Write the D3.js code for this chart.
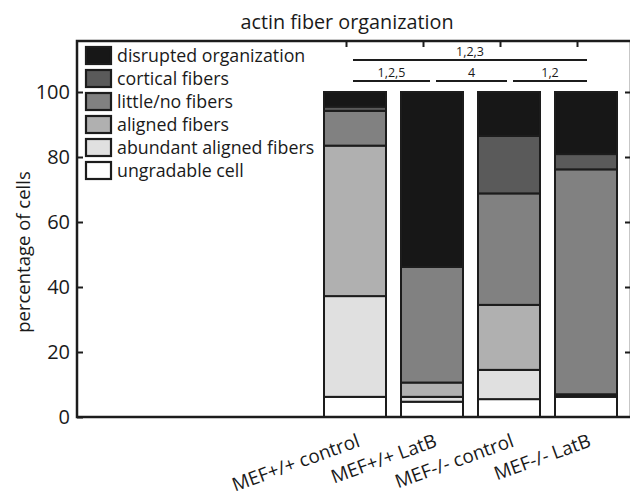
<!DOCTYPE html>
<html>
<head>
<meta charset="utf-8">
<script src="https://cdn.jsdelivr.net/npm/d3@7/dist/d3.min.js"></script>
<style>
  html, body { margin: 0; padding: 0; background: #fff; }
  svg { display: block; font-family: "Open Sans", "Noto Sans", sans-serif; }
</style>
</head>
<body>
<svg id="chart" width="630" height="500"></svg>
<script>
// ---- data ----
const categories = ["MEF+/+ control", "MEF+/+ LatB", "MEF-/- control", "MEF-/- LatB"];
const seriesNames = ["ungradable cell", "abundant aligned fibers", "aligned fibers", "little/no fibers", "cortical fibers", "disrupted organization"];
const ungradable = [6.2, 4.7, 5.5, 6.2];
const abundant   = [31.0, 1.5, 9.0, 0.4];
const aligned    = [46.3, 4.4, 20.0, 0.4];
const littleNo   = [10.7, 35.6, 34.3, 69.2];
const cortical   = [1.3, 0.0, 17.7, 4.7];
const disrupted  = [4.5, 53.8, 13.5, 19.1];
const yTicks = [0, 20, 40, 60, 80, 100];
const brackets = [
  { from: 0, to: 3, label: "1,2,3", level: 1 },
  { from: 0, to: 1, label: "1,2,5", level: 0 },
  { from: 1, to: 2, label: "4", level: 0 },
  { from: 2, to: 3, label: "1,2", level: 0 }
];
const title = "actin fiber organization";
const yLabel = "percentage of cells";

// ---- styling ----
const colors = ["#ffffff", "#e0e0e0", "#b0b0b0", "#818181", "#5a5a5a", "#171717"];
const ink = "#1c1c1c";

const seriesValues = [ungradable, abundant, aligned, littleNo, cortical, disrupted];
const table = categories.map((c, i) => {
  const row = { cat: c };
  seriesNames.forEach((s, j) => row[s] = seriesValues[j][i]);
  return row;
});
const stacked = d3.stack().keys(seriesNames)(table);

const svg = d3.select("#chart");
const frame = { left: 77, right: 631, top: 41, bottom: 417 };

const x = d3.scaleBand().domain(categories).range([316.5, 624.5])
  .paddingInner(0.169).paddingOuter(0.0845);
const y = d3.scaleLinear().domain([0, 100]).range([frame.bottom, 92]);

// bars
const g = svg.append("g");
stacked.forEach((layer, j) => {
  g.selectAll(null).data(layer.filter(d => d[1] - d[0] > 0)).join("rect")
    .attr("x", d => x(d.data.cat) + 1)
    .attr("width", x.bandwidth() - 2)
    .attr("y", d => y(d[1]))
    .attr("height", d => Math.max(0, y(d[0]) - y(d[1])))
    .attr("fill", colors[j])
    .attr("stroke", ink)
    .attr("stroke-width", 2);
});

// frame
svg.append("rect")
  .attr("x", frame.left).attr("y", frame.top)
  .attr("width", frame.right - frame.left).attr("height", frame.bottom - frame.top)
  .attr("fill", "none").attr("stroke", ink).attr("stroke-width", 2.5);

// left axis
const yAxis = svg.append("g").attr("transform", `translate(${frame.left},0)`)
  .call(d3.axisLeft(y).tickValues(yTicks).tickSizeInner(-6).tickSizeOuter(0).tickPadding(7));
yAxis.select(".domain").remove();
yAxis.selectAll(".tick line").attr("stroke", ink).attr("stroke-width", 2);
yAxis.selectAll(".tick text").attr("font-size", 20).attr("fill", "#1a1a1a")
  .attr("font-family", "Open Sans, sans-serif");

// right axis
const yAxisR = svg.append("g").attr("transform", `translate(${frame.right},0)`)
  .call(d3.axisRight(y).tickValues(yTicks.slice(1)).tickSizeInner(-6).tickSizeOuter(0).tickFormat(""));
yAxisR.select(".domain").remove();
yAxisR.selectAll(".tick line").attr("stroke", ink).attr("stroke-width", 2);

// top axis ticks
const xTop = svg.append("g").attr("transform", `translate(-8.5,${frame.top})`)
  .call(d3.axisTop(x).tickSizeInner(-6).tickSizeOuter(0).tickFormat(""));
xTop.select(".domain").remove();
xTop.selectAll(".tick line").attr("stroke", ink).attr("stroke-width", 2);

// x labels
svg.append("g").selectAll("text").data(categories).join("text")
  .attr("transform", d => `translate(${x(d) + x.bandwidth() / 2 + 6},${446}) rotate(-20)`)
  .attr("text-anchor", "end")
  .attr("font-size", 19)
  .attr("fill", "#1a1a1a")
  .text(d => d);

// title
svg.append("text").attr("x", 347).attr("y", 29).attr("text-anchor", "middle")
  .attr("font-size", 19.8).attr("fill", "#1a1a1a").text(title);

// y label
svg.append("text").attr("transform", `translate(30,252) rotate(-90)`)
  .attr("text-anchor", "middle").attr("font-size", 18.5).attr("fill", "#1a1a1a").text(yLabel);

// legend
const legendOrder = seriesNames.map((s, j) => ({ name: s, color: colors[j] })).reverse();
const lg = svg.append("g").attr("transform", "translate(86,47)");
const li = lg.selectAll("g").data(legendOrder).join("g")
  .attr("transform", (d, i) => `translate(0,${i * 23})`);
li.append("rect").attr("width", 25).attr("height", 17)
  .attr("fill", d => d.color).attr("stroke", ink).attr("stroke-width", 2.2);
li.append("text").attr("x", 31).attr("y", 15).attr("font-size", 17.8).attr("fill", "#1a1a1a")
  .text(d => d.name);

// significance brackets
const cx = i => x(categories[i]) + x.bandwidth() / 2;
const bg = svg.append("g");
brackets.forEach(b => {
  const yy = b.level === 1 ? 60 : 81;
  const x1 = cx(b.from) + (b.level === 0 && b.from > 0 ? 4 : -2);
  const x2 = cx(b.to) + (b.level === 0 && b.to < categories.length - 1 ? -2 : 1);
  bg.append("line").attr("x1", x1).attr("x2", x2).attr("y1", yy).attr("y2", yy)
    .attr("stroke", ink).attr("stroke-width", 2);
  bg.append("text").attr("x", (x1 + x2) / 2).attr("y", yy - 4).attr("text-anchor", "middle")
    .attr("font-size", 12.5).attr("fill", "#1a1a1a").text(b.label);
});
</script>
</body>
</html>
